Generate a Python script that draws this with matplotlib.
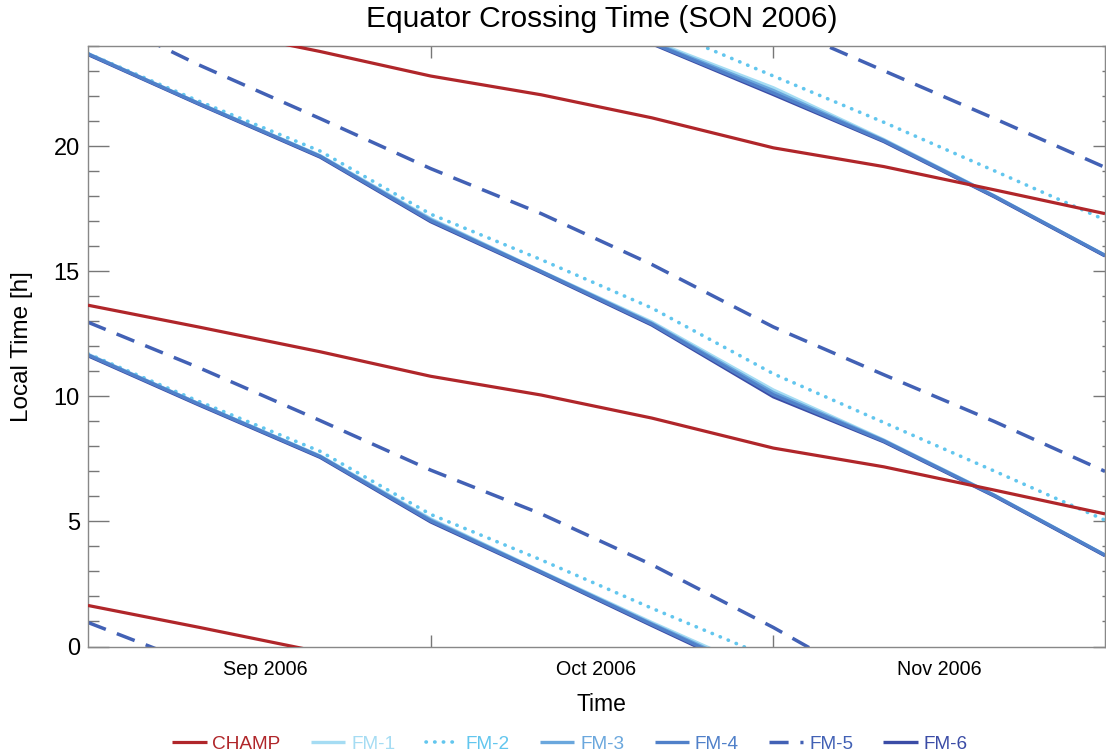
import numpy as np
import pandas as pd
import matplotlib.pyplot as plt
import matplotlib.dates as mdates
from matplotlib.ticker import MultipleLocator, NullFormatter, FixedLocator

plt.rcParams['font.family'] = ['Liberation Sans', 'DejaVu Sans']

nan = np.nan

# ~10-day means, local time of equator crossing [h]
dates = pd.to_datetime(["2006-08-31", "2006-09-10", "2006-09-21", "2006-10-01", "2006-10-11",
                        "2006-10-21", "2006-11-01", "2006-11-11", "2006-11-21", "2006-12-01"])

# each satellite: visible branches (values outside 0-24 run off the axes = wrap)
champ = [
    [13.64, 12.77, 11.78, 10.80, 10.05, 9.13, 7.93, 7.18, 6.25, 5.30],
    [1.64, 0.77, -0.22, nan, nan, nan, nan, nan, nan, nan],
    [25.64, 24.77, 23.78, 22.80, 22.05, 21.13, 19.93, 19.18, 18.25, 17.30],
]
fm1 = [
    [23.70, 21.72, 19.62, 17.10, 15.00, 12.97, 10.25, 8.25, 6.05, 3.66],
    [11.68, 9.71, 7.62, 5.10, 3.00, 0.96, -1.20, nan, nan, nan],
    [nan, nan, nan, nan, nan, 24.20, 22.33, 20.26, 18.01, 15.64],
]
fm2 = [
    [23.70, 21.80, 19.80, 17.28, 15.46, 13.53, 10.90, 8.95, 7.01, 5.05],
    [11.70, 9.80, 7.80, 5.28, 3.46, 1.53, -0.50, nan, nan, nan],
    [nan, nan, nan, nan, nan, 24.85, 22.80, 20.95, 19.01, 17.05],
]
fm3 = [
    [23.69, 21.71, 19.60, 17.06, 14.99, 12.92, 10.15, 8.23, 6.04, 3.65],
    [11.66, 9.70, 7.60, 5.06, 2.98, 0.91, -1.30, nan, nan, nan],
    [nan, nan, nan, nan, nan, 24.15, 22.22, 20.23, 18.00, 15.63],
]
fm4 = [
    [23.68, 21.70, 19.59, 17.02, 14.98, 12.89, 10.06, 8.21, 6.03, 3.65],
    [11.65, 9.69, 7.59, 5.02, 2.97, 0.88, -1.38, nan, nan, nan],
    [nan, nan, nan, nan, nan, 24.12, 22.12, 20.21, 17.99, 15.63],
]
fm5 = [
    [25.40, 23.25, 21.10, 19.10, 17.30, 15.27, 12.77, 10.86, 8.99, 7.00],
    [12.96, 11.15, 9.03, 7.05, 5.30, 3.27, 0.76, -1.73, nan, nan],
    [0.96, -0.75, nan, nan, nan, nan, nan, nan, nan, nan],
    [nan, nan, nan, nan, nan, nan, 24.93, 23.01, 21.10, 19.15],
]
fm6 = [
    [23.66, 21.68, 19.56, 16.98, 14.95, 12.85, 9.98, 8.18, 6.01, 3.63],
    [11.62, 9.66, 7.56, 4.98, 2.94, 0.84, -1.44, nan, nan, nan],
    [nan, nan, nan, nan, nan, 24.09, 22.06, 20.18, 17.97, 15.61],
]

names = ["CHAMP", "FM-1", "FM-2", "FM-3", "FM-4", "FM-5", "FM-6"]
data = [champ, fm1, fm2, fm3, fm4, fm5, fm6]
colors = ["#b0262a", "#a5dcf3", "#62c6ee", "#6aa7dd", "#5080c9", "#4261b5", "#3b4ca6"]
styles = ["-", "-", (0, (0.1, 2.3)), "-", "-", (0, (5.5, 3.4)), "-"]
widths = [2.3, 2.4, 2.6, 2.4, 2.4, 2.5, 2.4]
draw_order = [1, 2, 3, 6, 5, 4, 0]

fig = plt.figure(figsize=(11.06, 7.56), dpi=100)
ax = fig.add_axes([88 / 1106, 109.5 / 756, 1017 / 1106, 600.5 / 756])

handles = {}
for i in draw_order:
    for k, branch in enumerate(data[i]):
        ln, = ax.plot(dates, branch, color=colors[i], linestyle=styles[i], lw=widths[i],
                      dash_capstyle='round' if i == 2 else 'butt', solid_capstyle='butt',
                      zorder=3 if i == 0 else 2, label=names[i])
        if k == 0:
            handles[i] = ln

ax.set_xlim(pd.Timestamp("2006-08-31"), pd.Timestamp("2006-12-01"))
ax.set_ylim(0, 24)

month_edges = pd.to_datetime(["2006-10-01", "2006-11-01"])
ax.xaxis.set_major_locator(FixedLocator(mdates.date2num(month_edges)))
ax.xaxis.set_major_formatter(NullFormatter())
ax.xaxis.set_minor_locator(mdates.MonthLocator(bymonthday=16))
ax.xaxis.set_minor_formatter(mdates.DateFormatter('%b %Y'))
ax.tick_params(axis='x', which='major', direction='in', length=8.6, width=1,
               top=True, bottom=True, color='#777777')
ax.tick_params(axis='x', which='minor', length=0, labelsize=14.2, pad=10)

ax.yaxis.set_major_locator(MultipleLocator(5))
ax.yaxis.set_minor_locator(MultipleLocator(1))
ax.tick_params(axis='y', which='major', direction='in', length=15, width=1,
               labelsize=17, pad=5.8, color='#777777')
ax.tick_params(axis='y', which='minor', direction='in', length=8, width=1, color='#777777')

sec = ax.secondary_yaxis('right')
sec.yaxis.set_major_locator(MultipleLocator(5))
sec.yaxis.set_minor_locator(MultipleLocator(1))
sec.tick_params(which='major', direction='in', length=8.6, width=1, color='#777777', labelright=False)
sec.tick_params(which='minor', direction='in', length=2.2, width=1, color='#777777')
sec.spines['right'].set_color('#888888')

for s in ax.spines.values():
    s.set_color('#888888')
    s.set_linewidth(1)

ax.set_xlabel('Time', fontsize=16.5, va='center')
ax.xaxis.set_label_coords(0.505, -0.0974)
ax.set_ylabel('Local Time [h]', fontsize=17.5, va='center')
ax.yaxis.set_label_coords(-0.065, 0.5)

fig.text(602 / 1106, 1 - 19 / 756, 'Equator Crossing Time (SON 2006)',
         ha='center', va='center', fontsize=21.5)

fig.legend(handles=[handles[i] for i in range(7)], labels=names, loc='center',
           bbox_to_anchor=(570 / 1106, 12 / 756), ncol=7, frameon=False, fontsize=13.7,
           handlelength=1.8, handletextpad=0.3, columnspacing=1.6, labelcolor='linecolor',
           borderpad=0, borderaxespad=0)

fig.savefig('out.png', dpi=100)
